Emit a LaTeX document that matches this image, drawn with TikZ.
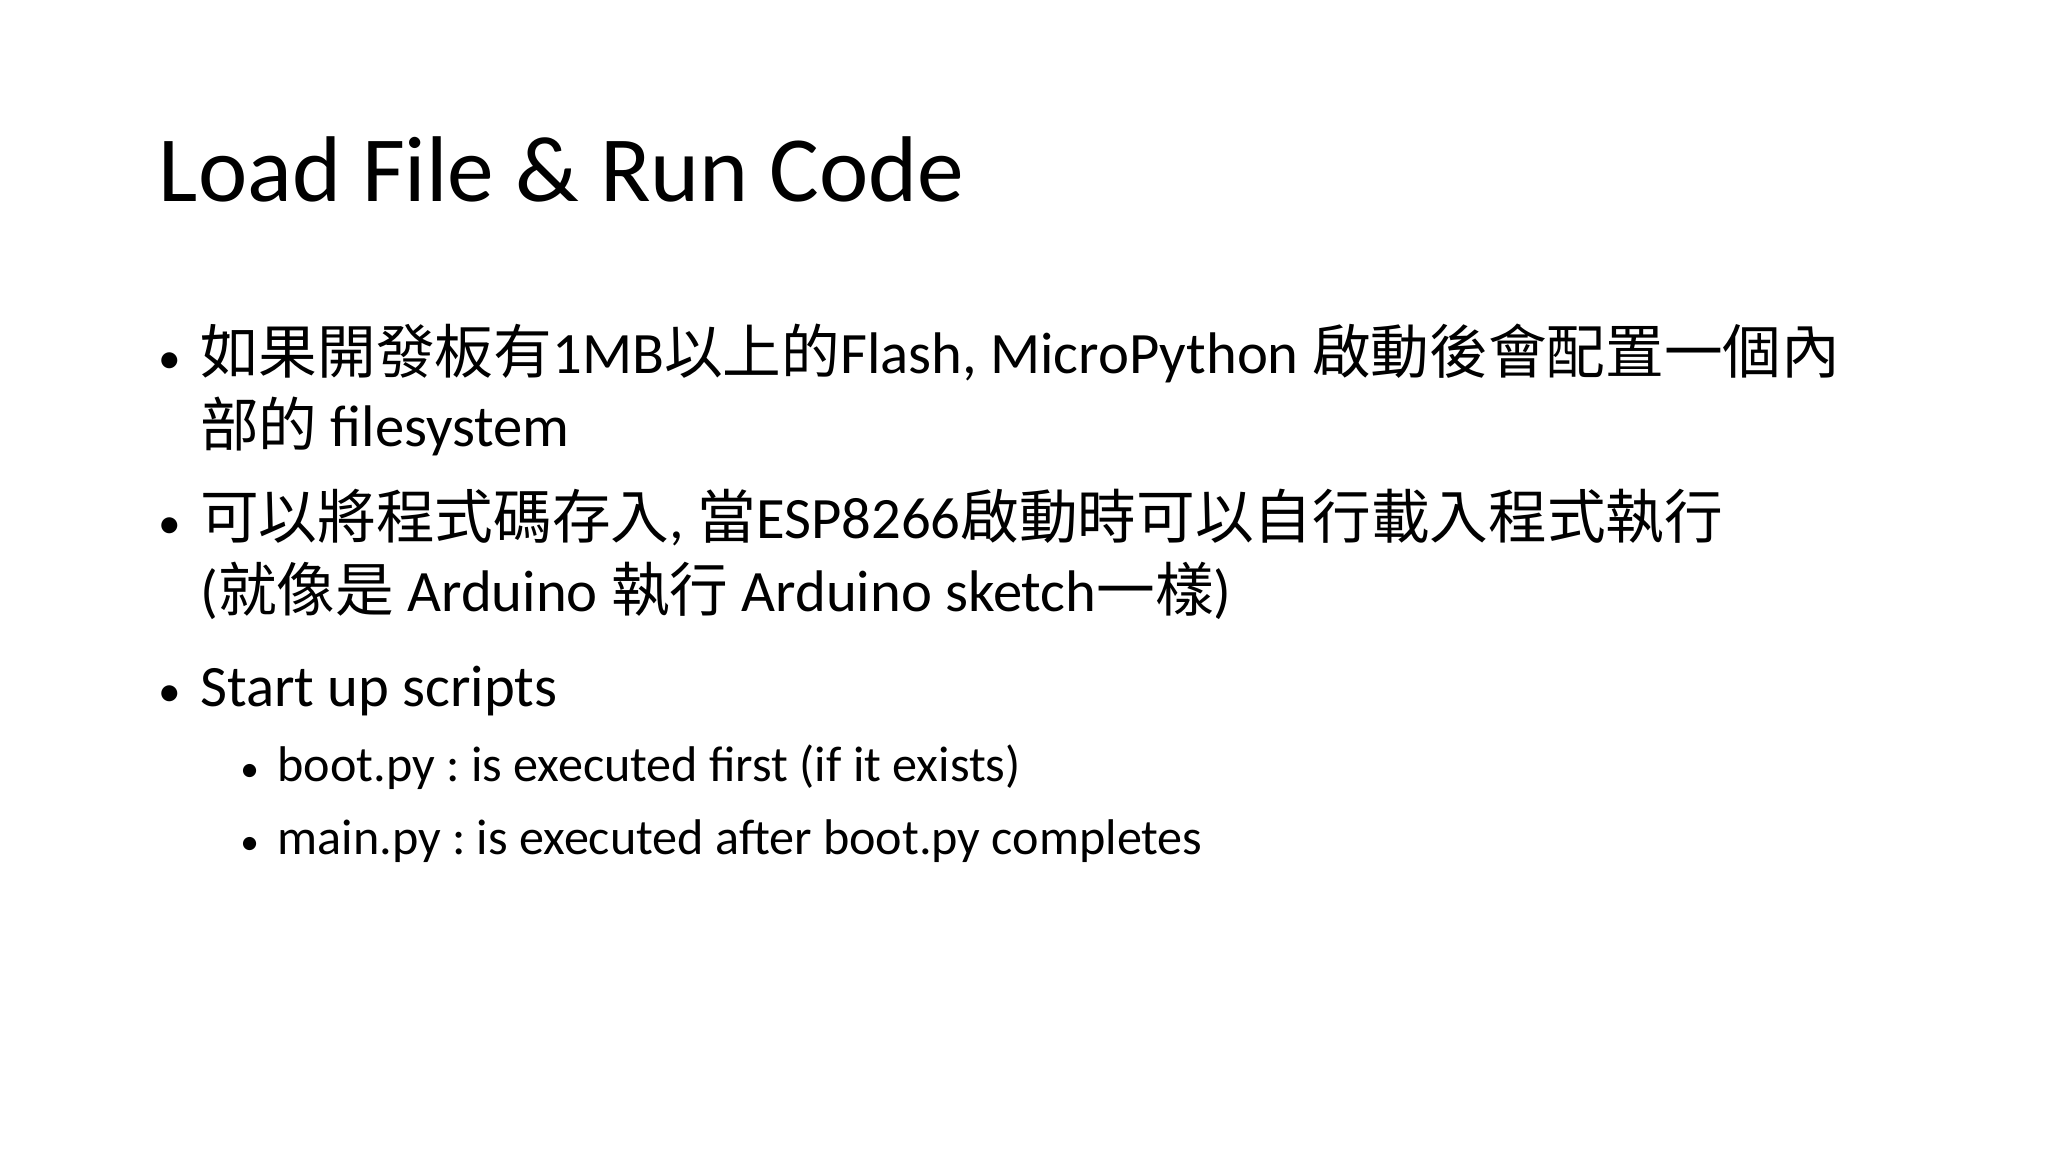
\documentclass[tikz,border=0pt]{standalone}
\usepackage{fontspec}
\setmainfont{Carlito}
\newfontfamily\cjkf{Noto Sans CJK TC}
\newcommand{\zh}[1]{{\cjkf #1}}
\frenchspacing
\begin{document}
\begin{tikzpicture}[x=1pt,y=1pt,
  txt/.style={anchor=base west,inner sep=0pt,font=\fontsize{44}{54}\selectfont},
  blt/.style={anchor=base west,inner sep=0pt,font=\fontsize{34}{40}\selectfont},
  sub/.style={anchor=base west,inner sep=0pt,font=\fontsize{37.6}{46}\selectfont},
  sblt/.style={anchor=base west,inner sep=0pt,font=\fontsize{28}{34}\selectfont},
  ttl/.style={anchor=base west,inner sep=0pt,font=\fontsize{70}{84}\selectfont}]
\useasboundingbox (0,0) rectangle (1536,864);
\node[ttl] (title) at (119,864-151) {Load File \& Run Code};
\node[blt] (b1) at (119,864-280) {•};
\node[txt] (t1) at (150,864-280) {\zh{如果開發板有}1MB\zh{以上的}Flash, MicroPython \zh{啟動後會配置一個內}};
\node[txt] (t1b) at (150,864-335) {\zh{部的} filesystem};
\node[blt] (b2) at (119,864-404) {•};
\node[txt] (t2) at (150,864-404) {\zh{可以將程式碼存入}, \zh{當}ESP8266\zh{啟動時可以自行載入程式執行}};
\node[txt] (t2b) at (150,864-459) {(\zh{就像是} Arduino \zh{執行} Arduino sketch\zh{一樣})};
\node[blt] (b3) at (119,864-530) {•};
\node[txt] (t3) at (150,864-530) {Start up scripts};
\node[sblt] (s1b) at (180,864-586) {•};
\node[sub] (s1) at (208,864-586) {boot.py : is executed first (if it exists)};
\node[sblt] (s2b) at (180,864-641) {•};
\node[sub] (s2) at (208,864-641) {main.py : is executed after boot.py completes};
\end{tikzpicture}
\end{document}
